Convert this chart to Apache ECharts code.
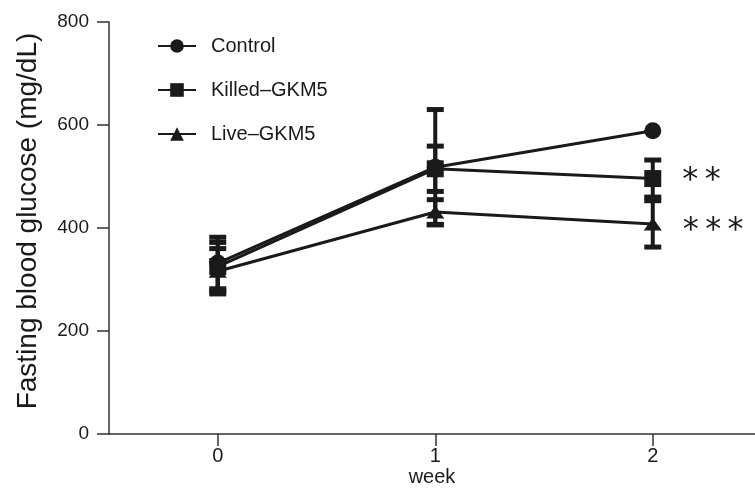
<!DOCTYPE html>
<html>
<head>
<meta charset="utf-8">
<script src="https://cdn.jsdelivr.net/npm/echarts@6/dist/echarts.min.js"></script>
<style>
html,body{margin:0;padding:0;background:#fff;}
#chart{width:755px;height:488px;}
</style>
</head>
<body>
<div id="chart"></div>
<script>
// ---- data ----
var weeks = [0, 1, 2];
var seriesNames = ['Control', 'Killed\u2013GKM5', 'Live\u2013GKM5'];
var controlMean = [332, 518, 589];
var controlErr  = [50, 112, 0];
var killedMean  = [325, 515, 496];
var killedErr   = [47, 44, 36];
var liveMean    = [316, 431, 408];
var liveErr     = [44, 24, 45];
var killedNote  = ['', '', '*\u2009*'];
var liveNote    = ['', '', '*\u2009*\u2009*'];
var yTicks = [0, 200, 400, 600, 800];
var xTicks = [0, 1, 2];

var INK = '#1a1a1a';
var FONT = '"Liberation Sans", Arial, Helvetica, sans-serif';

function lineData(mean, notes, noteDy) {
  return weeks.map(function (w, i) {
    var item = { value: [w, mean[i]] };
    if (notes && notes[i]) {
      item.label = {
        show: true, formatter: notes[i], position: 'right', distance: 21,
        offset: [0, noteDy], color: INK, fontSize: 32, fontFamily: '"DejaVu Sans", sans-serif'
      };
    }
    return item;
  });
}
function errData(mean, err) {
  return weeks.map(function (w, i) { return [w, mean[i] - err[i], mean[i] + err[i]]; });
}
function renderErr(params, api) {
  var x = api.value(0);
  var lo = api.coord([x, api.value(1)]);
  var hi = api.coord([x, api.value(2)]);
  if (Math.abs(lo[1] - hi[1]) < 1) return null;
  var hw = 8.5;
  var st = { stroke: INK, lineWidth: 4 };
  var cap = { stroke: INK, lineWidth: 5 };
  return {
    type: 'group',
    children: [
      { type: 'line', shape: { x1: hi[0], y1: hi[1], x2: lo[0], y2: lo[1] }, style: st },
      { type: 'line', shape: { x1: hi[0] - hw, y1: hi[1], x2: hi[0] + hw, y2: hi[1] }, style: cap },
      { type: 'line', shape: { x1: lo[0] - hw, y1: lo[1], x2: lo[0] + hw, y2: lo[1] }, style: cap }
    ]
  };
}
function lineSeries(name, mean, symbol, size, notes, noteDy) {
  return {
    name: name, type: 'line', data: lineData(mean, notes, noteDy),
    symbol: symbol, symbolSize: size, showSymbol: true,
    lineStyle: { color: INK, width: 3 },
    itemStyle: { color: INK, borderWidth: 0 },
    z: 3, animation: false
  };
}
function errSeries(mean, err) {
  return {
    type: 'custom', data: errData(mean, err), renderItem: renderErr,
    encode: { x: 0, y: [1, 2] }, z: 2, animation: false, silent: true
  };
}

var chart = echarts.init(document.getElementById('chart'));
chart.setOption({
  animation: false,
  backgroundColor: '#fff',
  grid: { left: 109, right: 0, top: 22, bottom: 54, containLabel: false, outerBoundsMode: 'none' },
  legend: {
    orient: 'vertical', left: 152, top: 31, itemGap: 24,
    itemWidth: 38, itemHeight: 17,
    data: seriesNames,
    textStyle: { color: INK, fontSize: 20, fontFamily: FONT, padding: [0, 0, 0, 10] }
  },
  xAxis: {
    type: 'value', min: -0.5, max: 2.47,
    name: 'week', nameLocation: 'middle', nameGap: 33, nameMoveOverlap: false,
    nameTextStyle: { color: INK, fontSize: 20, fontFamily: FONT },
    axisLine: { show: true, onZero: false, lineStyle: { color: '#333', width: 1.5 } },
    axisTick: { show: true, length: 12, customValues: xTicks, lineStyle: { color: '#333', width: 1.5 } },
    axisLabel: { customValues: xTicks, margin: 12, color: INK, fontSize: 20, fontFamily: FONT },
    splitLine: { show: false }
  },
  yAxis: {
    type: 'value', min: 0, max: 800, interval: 200,
    name: 'Fasting blood glucose (mg/dL)', nameLocation: 'middle', nameGap: 67, nameMoveOverlap: false,
    nameTextStyle: { color: INK, fontSize: 28, fontFamily: FONT, padding: [0, 0, 0, 14] },
    axisLine: { show: true, onZero: false, lineStyle: { color: '#333', width: 1.5 } },
    axisTick: { show: true, length: 12, lineStyle: { color: '#333', width: 1.5 } },
    axisLabel: { margin: 20, color: INK, fontSize: 19, fontFamily: FONT,
      formatter: function (v) { return yTicks.indexOf(v) >= 0 ? String(v) : ''; } },
    splitLine: { show: false }
  },
  series: [
    errSeries(controlMean, controlErr),
    errSeries(killedMean, killedErr),
    errSeries(liveMean, liveErr),
    lineSeries(seriesNames[0], controlMean, 'circle', 17),
    lineSeries(seriesNames[1], killedMean, 'rect', 17, killedNote, 2),
    lineSeries(seriesNames[2], liveMean, 'triangle', [18, 13], liveNote, 7)
  ]
});
</script>
</body>
</html>
